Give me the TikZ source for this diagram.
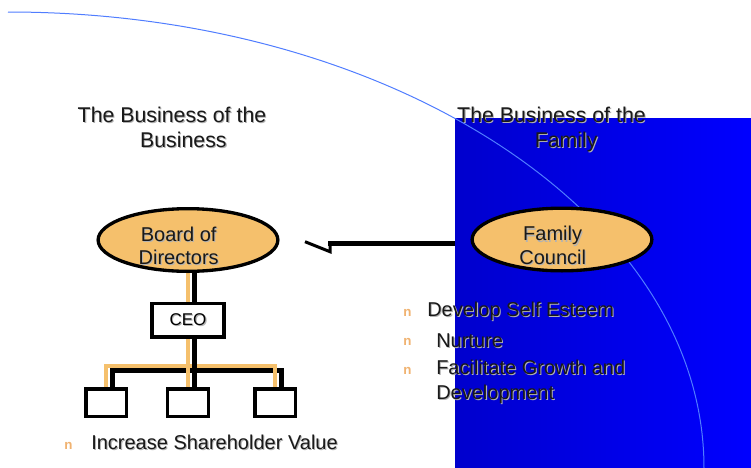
\documentclass[tikz,border=0pt]{standalone}
\usepackage{fontspec}
\setmainfont{Liberation Sans}
\usetikzlibrary{positioning, backgrounds, shapes.geometric}

\definecolor{peach}{RGB}{245,192,108}
\definecolor{bulletorange}{RGB}{240,178,112}
\definecolor{arcblue}{RGB}{80,125,255}
\definecolor{deepblue}{RGB}{0,0,205}

% soft grey drop shadow behind a line of text
\newcommand{\shd}[1]{\leavevmode\rlap{\color{black!30}\kern0.8pt\raisebox{-0.8pt}{#1}}#1}

\begin{document}
\begin{tikzpicture}[
	x=0.75pt, y=-0.75pt, % one unit per pixel, y running down
	% Shapes
	pill/.style={ellipse, draw=black, line width=2.5pt, fill=peach,
		minimum width=134.8pt, minimum height=47pt, inner sep=0pt},
	post/.style={rectangle, draw=black, line width=2.5pt, fill=white, inner sep=0pt},
	ceobox/.style={post, minimum width=53.8pt, minimum height=25.3pt,
		font=\fontsize{12.75}{15}\selectfont},
	unit/.style={post, minimum width=30.4pt, minimum height=20.5pt},
	% Text
	heading/.style={anchor=north, align=center, inner sep=0pt, text=black!90,
		font=\fontsize{16}{18.75}\selectfont},
	pilltext/.style={align=center, inner sep=0pt, text=black!90,
		xshift=-7pt, yshift=-4.9pt, font=\fontsize{15}{17.5}\selectfont},
	item/.style={anchor=north west, align=left, inner sep=0pt, text=black!90,
		font=\fontsize{15}{18.4}\selectfont},
	bullet/.style={anchor=base west, inner sep=0pt, text=bulletorange,
		font=\fontsize{10}{12}\selectfont\bfseries},
	% Lines
	wire/.style={draw=peach, line width=3pt,
		preaction={draw=black, line width=3.75pt, transform canvas={shift={(4.5pt,-3pt)}}}},
	feed/.style={draw=black, line width=4pt},
	barb/.style={draw=black, line width=2.25pt, line join=miter},
	arcline/.style={draw=arcblue, line width=0.75pt}
	]
	\useasboundingbox (0,0) rectangle (751,468);
	
	% --- HEADINGS ---
	\node[heading] (bizHead) at (172,106.5) {\shd{The Business of the}\\\hspace*{17pt}\shd{Business}};
	\node[heading] (famHead) at (551.5,106.5) {\shd{The Business of the}\\\hspace*{22pt}\shd{Family}};
	
	% --- GOVERNING BODIES ---
	\node[pill, label={[pilltext]center:{\shd{Board of}\\\shd{Directors}}}] (BoD) at (188,240) {};
	\node[pill, label={[pilltext]center:{\shd{Family}\\\shd{Council}}}] (FC) at (562,239.5) {};
	
	% --- ORG CHART ---
	\node[ceobox, below=21.5pt of BoD] (CEO) {\shd{CEO}};
	\node[unit, below=36.5pt of CEO] (U2) {};
	\node[unit, left=28.5pt of U2] (U1) {};
	\node[unit, right=32.5pt of U2] (U3) {};
	\coordinate (bus) at (188,366);
	
	% --- BULLETS ---
	\node[bullet] (dot0) at (64,449) {n};
	\foreach \y [count=\i] in {316,345,374.3} {
		\node[bullet] (dot\i) at (403,\y) {n};
	}
	\node[item] (shareholder) at (91,435) {\shd{Increase Shareholder Value}};
	\node[item] (esteem) at (427,301.5) {\shd{Develop Self Esteem}};
	\node[item] (nurture) at (436,333) {\shd{Nurture}};
	\node[item] (growth) at (436,360) {\shd{Facilitate Growth and}\\\shd{Development}};
	
	% --- ARROW ENDS ---
	\coordinate (tail) at (328,243.3);
	\coordinate (tip) at (305,241.7);
	\coordinate (corner) at (330,251.7);
	
	\begin{scope}[on background layer]
		% link from the council, tucked under the panel
		\draw[feed] (FC.west |- tail) -- (tail);
		\draw[barb] (tip) -- (corner) -- (corner |- tail);
		
		% family panel and sweep
		\fill[left color=deepblue, right color=blue] (455,118) rectangle (751,468);
		\draw[arcline] (8,12) arc[start angle=-90, end angle=0, x radius=696, y radius=456];
		
		% reporting lines
		\draw[wire] (BoD.center) -- (CEO.center);
		\draw[wire] (CEO.center) -- (bus) -| (U1.center);
		\draw[wire] (CEO.center) -- (bus) -| (U3.center);
		\draw[wire] (CEO.center) -- (U2.center);
	\end{scope}
	
\end{tikzpicture}
\end{document}
